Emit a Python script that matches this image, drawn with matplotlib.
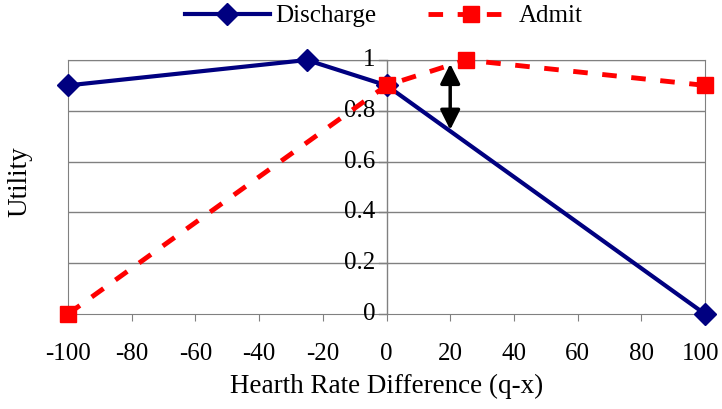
import matplotlib.pyplot as plt
import matplotlib.transforms as mtransforms

x_discharge = [-100, -25, 0, 100]
y_discharge = [0.9, 1.0, 0.9, 0.0]
x_admit = [-100, 0, 25, 100]
y_admit = [0.0, 0.9, 1.0, 0.9]
x_ticks = [-100, -80, -60, -40, -20, 0, 20, 40, 60, 80, 100]
y_ticks = [0, 0.2, 0.4, 0.6, 0.8, 1]
y_tick_labels = ["0", "0.2", "0.4", "0.6", "0.8", "1"]
arrow_x = 20
arrow_y = (0.985, 0.725)

plt.rcParams["font.family"] = ["Liberation Serif", "DejaVu Serif"]
plt.rcParams["font.size"] = 18

fig = plt.figure(figsize=(7.22, 4.09), dpi=100)
ax = fig.add_axes([68 / 722, 1 - 314 / 409, (705 - 68) / 722, (314 - 60) / 409])

for y in y_ticks[1:]:
    ax.axhline(y, color="#808080", lw=1, zorder=0)

ax.plot(x_discharge, y_discharge, color="#000080", lw=3, marker="D", ms=11,
        label="Discharge", zorder=3, clip_on=False)
ax.plot(x_admit, y_admit, color="red", lw=3.5, ls=(0, (3, 3)), marker="s", ms=11,
        label="Admit", zorder=4, clip_on=False)

ax.annotate("", xy=(arrow_x, arrow_y[0]), xytext=(arrow_x, arrow_y[1]),
            arrowprops=dict(arrowstyle="<|-|>,head_length=0.8,head_width=0.4",
                            color="black", lw=2.5, mutation_scale=15,
                            shrinkA=0, shrinkB=0), zorder=5)

ax.set_xlim(-100, 100)
ax.set_ylim(0, 1)

for s in ["left", "right", "top"]:
    ax.spines[s].set_color("#808080")
ax.spines["bottom"].set_position(("data", 0))
ax.spines["bottom"].set_color("#808080")

ax.set_xticks(x_ticks)
ax.set_xticklabels([str(v) for v in x_ticks])
ax.tick_params(axis="x", direction="out", length=5, color="#808080", pad=16)
# last label sits on the figure edge; pull it in a few pixels
last = ax.get_xticklabels()[-1]
last.set_transform(last.get_transform() +
                   mtransforms.ScaledTranslation(-4 / 100, 0, fig.dpi_scale_trans))
ax.set_yticks([])
ax.axvline(0, color="#808080", lw=1, zorder=0)
for y, lab in zip(y_ticks, y_tick_labels):
    ax.plot([-2.5, 0], [y, y], color="#808080", lw=1, clip_on=False, zorder=1)
    ax.text(-3.5, y, lab, ha="right", va="center")

ax.set_xlabel("Hearth Rate Difference (q-x)", fontsize=19.5)
ax.xaxis.set_label_coords(0.5, -0.235)
ax.set_ylabel("Utility", fontsize=19.5)
ax.yaxis.set_label_coords(-0.056, 0.52)

leg = fig.legend(loc="upper left", bbox_to_anchor=(0.256, 0.988), ncol=2,
                 frameon=False, handlelength=3.4, columnspacing=2.1,
                 handletextpad=0.2, borderpad=0, borderaxespad=0,
                 prop={"family": "Liberation Serif", "size": 18})

fig.savefig("out.png", dpi=100)
